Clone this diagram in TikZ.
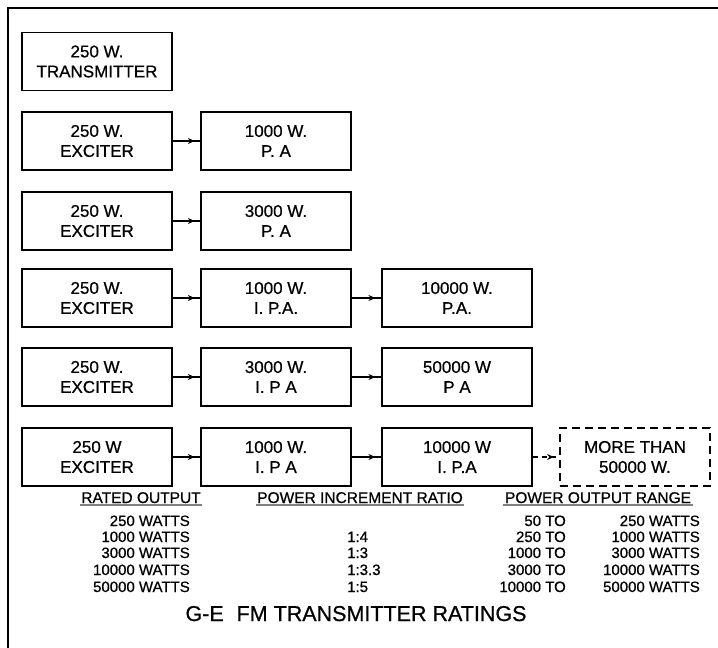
\documentclass[tikz,border=0pt]{standalone}
\usepackage{fontspec}
\setmainfont{Liberation Sans}[BoldFont=Liberation Sans,BoldFeatures={FakeBold=0.7}]
\usetikzlibrary{arrows.meta,decorations.markings}
\begin{document}
\begin{tikzpicture}[x=1pt,y=-1pt,
  blk/.style={draw,line width=1.3pt,minimum width=150pt,minimum height=58pt,align=center,inner sep=0pt,font=\fontsize{17}{20}\selectfont\bfseries},
  dblk/.style={blk,dash pattern=on 8pt off 5pt},
  feed/.style={line width=1.3pt,postaction={decorate},decoration={markings,mark=at position 0.8 with {\arrow{Stealth[length=7pt,width=6pt]}}}},
  dfeed/.style={feed,dash pattern=on 5pt off 4pt},
  hdr/.style={inner sep=1.5pt,font=\fontsize{15.5}{18}\selectfont\bfseries,anchor=base},
  cell/.style={inner sep=0pt,font=\fontsize{15}{16}\selectfont\bfseries},
  ttl/.style={inner sep=0pt,font=\fontsize{21.5}{24}\selectfont\bfseries,anchor=base}
]
\useasboundingbox (0,0) rectangle (718,648);
\draw[line width=2pt] (8,648) -- (8,8) -- (718,8);

% row 1
\node[blk] (t1) at (97,61.5) {250 W.\\TRANSMITTER};
% row 2
\node[blk] (e2) at (97,141) {250 W.\\EXCITER};
\node[blk] (p2) at (276,141) {1000 W.\\P. A};
% row 3
\node[blk] (e3) at (97,221) {250 W.\\EXCITER};
\node[blk] (p3) at (276,221) {3000 W.\\P. A};
% row 4
\node[blk] (e4) at (97,298) {250 W.\\EXCITER};
\node[blk] (i4) at (276,298) {1000 W.\\I. P.A.};
\node[blk] (p4) at (457,298) {10000 W.\\P.A.};
% row 5
\node[blk] (e5) at (97,377) {250 W.\\EXCITER};
\node[blk] (i5) at (276,377) {3000 W.\\I. P A};
\node[blk] (p5) at (457,377) {50000 W\\P A};
% row 6
\node[blk] (e6) at (97,457) {250 W\\EXCITER};
\node[blk] (i6) at (276,457) {1000 W.\\I. P A};
\node[blk] (j6) at (457,457) {10000 W\\I. P.A};
\node[dblk] (m6) at (635,457) {MORE THAN\\50000 W.};

\draw[feed] (e2) -- (p2);
\draw[feed] (e3) -- (p3);
\draw[feed] (e4) -- (i4);
\draw[feed] (i4) -- (p4);
\draw[feed] (e5) -- (i5);
\draw[feed] (i5) -- (p5);
\draw[feed] (e6) -- (i6);
\draw[feed] (i6) -- (j6);
\draw[dfeed] (j6) -- (m6);

% headers
\node[hdr] (h1) at (141,503) {RATED OUTPUT};
\node[hdr] (h2) at (360,503) {POWER INCREMENT RATIO};
\node[hdr] (h3) at (598,503) {POWER OUTPUT RANGE};
\foreach \h in {h1,h2,h3} \draw[line width=1.3pt,gray] (\h.south west) -- (\h.south east);

% rated output
\node[cell,anchor=base east] (r1) at (190,526) {250 WATTS};
\node[cell,anchor=base east] (r2) at (190,542) {1000 WATTS};
\node[cell,anchor=base east] (r3) at (190,558) {3000 WATTS};
\node[cell,anchor=base east] (r4) at (190,575) {10000 WATTS};
\node[cell,anchor=base east] (r5) at (190,592) {50000 WATTS};

% ratios
\node[cell,anchor=base west] (q2) at (347,542) {1:4};
\node[cell,anchor=base west] (q3) at (347,558) {1:3};
\node[cell,anchor=base west] (q4) at (347,575) {1:3.3};
\node[cell,anchor=base west] (q5) at (347,592) {1:5};

% ranges
\node[cell,anchor=base east] (a1) at (566,526) {50 TO};
\node[cell,anchor=base east] (a2) at (566,542) {250 TO};
\node[cell,anchor=base east] (a3) at (566,558) {1000 TO};
\node[cell,anchor=base east] (a4) at (566,575) {3000 TO};
\node[cell,anchor=base east] (a5) at (566,592) {10000 TO};
\node[cell,anchor=base east] (b1) at (700,526) {250 WATTS};
\node[cell,anchor=base east] (b2) at (700,542) {1000 WATTS};
\node[cell,anchor=base east] (b3) at (700,558) {3000 WATTS};
\node[cell,anchor=base east] (b4) at (700,575) {10000 WATTS};
\node[cell,anchor=base east] (b5) at (700,592) {50000 WATTS};

\node[ttl] (title) at (356,621) {G-E\hspace{0.6em}FM TRANSMITTER RATINGS};
\end{tikzpicture}
\end{document}
